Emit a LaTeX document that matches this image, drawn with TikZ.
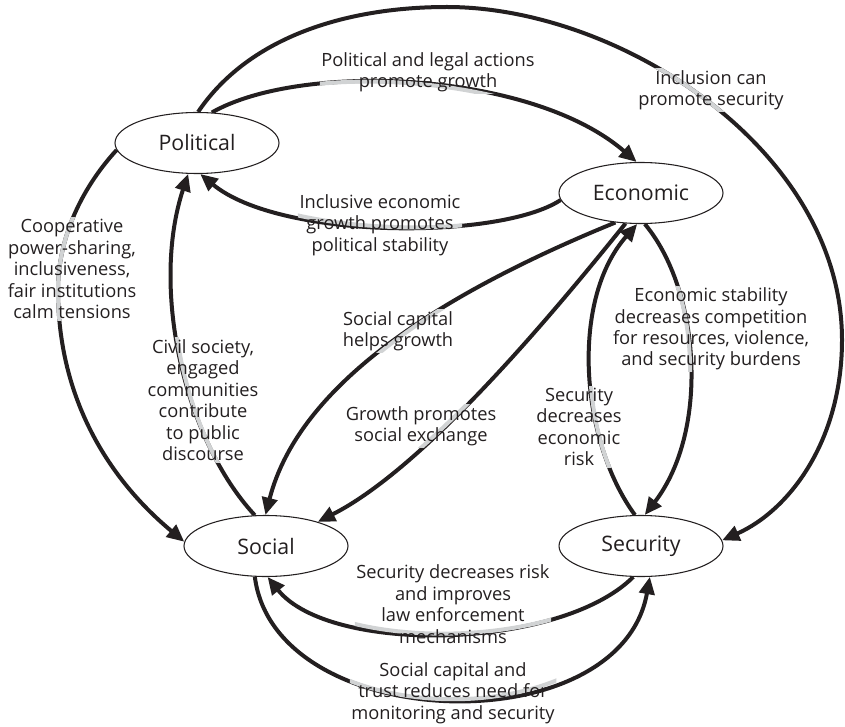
\documentclass[tikz,border=0pt]{standalone}
\usepackage{fontspec}
\setmainfont{Open Sans}
\usetikzlibrary{arrows.meta,shapes.geometric,backgrounds}
\definecolor{ink}{HTML}{231F20}
\definecolor{fade}{HTML}{D1D3D4}

\tikzset{
  sector/.style={draw=ink, line width=0.8pt, ellipse, minimum width=123pt,
    minimum height=45.75pt, inner sep=0pt, fill=white,
    font=\fontsize{16}{19}\selectfont, text=ink},
  note/.style={align=center, font=\fontsize{13.7}{16.1}\selectfont,
    text=ink, inner sep=1pt},
  link/.style={draw=ink, line width=3pt,
    -{Triangle[length=13pt,width=11.5pt]}},
  faded/.style={draw=fade, line width=3pt},
}

% a connector whose stretch under its caption is drawn in light grey
\newcommand{\captionedlink}[2]{%
  \draw[link] #2;
  \begin{scope}
    \clip (#1.south west) rectangle (#1.north east);
    \draw[faded] #2;
  \end{scope}}

\begin{document}
\begin{tikzpicture}[x=0.75pt,y=-0.75pt]
\useasboundingbox (0,0) rectangle (845,727);

% the four domains
\node[sector] (pol) at (197,143) {Political};
\node[sector] (eco) at (641,193) {Economic};
\node[sector] (soc) at (266,546) {Social};
\node[sector] (sec) at (641,546) {Security};

% captions
\node[note] (n1) at (428,72) {Political and legal actions\\promote growth};
\node[note] (n2) at (711,90) {Inclusion can\\promote security};
\node[note] (n3) at (380,225) {Inclusive economic\\growth promotes\\political stability};
\node[note] (n4) at (72,269) {Cooperative\\power-sharing,\\inclusiveness,\\fair institutions\\calm tensions};
\node[note] (n5) at (203,400) {Civil society,\\engaged\\communities\\contribute\\to public\\discourse};
\node[note] (n6) at (398,331) {Social capital\\helps growth};
\node[note] (n7) at (421,426) {Growth promotes\\social exchange};
\node[note] (n8) at (711,329) {Economic stability\\decreases competition\\for resources, violence,\\and security burdens};
\node[note] (n9) at (579,427) {Security\\decreases\\economic\\risk};
\node[note] (n10) at (453,604) {Security decreases risk\\and improves\\law enforcement\\mechanisms};
\node[note] (n11) at (453,693) {Social capital and\\trust reduces need for\\monitoring and security};

% connectors, kept behind the captions and the domains
\begin{pgfonlayer}{background}
\captionedlink{n1}{(pol.64) .. controls (300,62) and (530,70) .. (eco.98)}
\captionedlink{n2}{(pol.88) .. controls (250,35) and (350,7) .. (447,7)
  .. controls (620,7) and (842,150) .. (842,340)
  .. controls (842,440) and (790,510) .. (sec.4)}
\captionedlink{n3}{(eco.185) .. controls (500,240) and (280,240) .. (pol.-84)}
\captionedlink{n4}{(pol.185) .. controls (80,190) and (58,240) .. (58,290)
  .. controls (58,400) and (110,480) .. (soc.177)}
\captionedlink{n5}{(soc.110) .. controls (185,440) and (150,290) .. (pol.254)}
\captionedlink{n6}{(eco.229) .. controls (450,290) and (300,380) .. (soc.91)}
\captionedlink{n7}{(eco.243) .. controls (540,330) and (420,470) .. (soc.25)}
\captionedlink{n8}{(eco.277) .. controls (700,290) and (710,430) .. (sec.83)}
\captionedlink{n9}{(sec.101) .. controls (580,440) and (570,300) .. (eco.263)}
\captionedlink{n10}{(sec.256) .. controls (560,650) and (330,655) .. (soc.273)}
\captionedlink{n11}{(soc.250) .. controls (275,735) and (620,745) .. (sec.286)}
\end{pgfonlayer}
\end{tikzpicture}
\end{document}
